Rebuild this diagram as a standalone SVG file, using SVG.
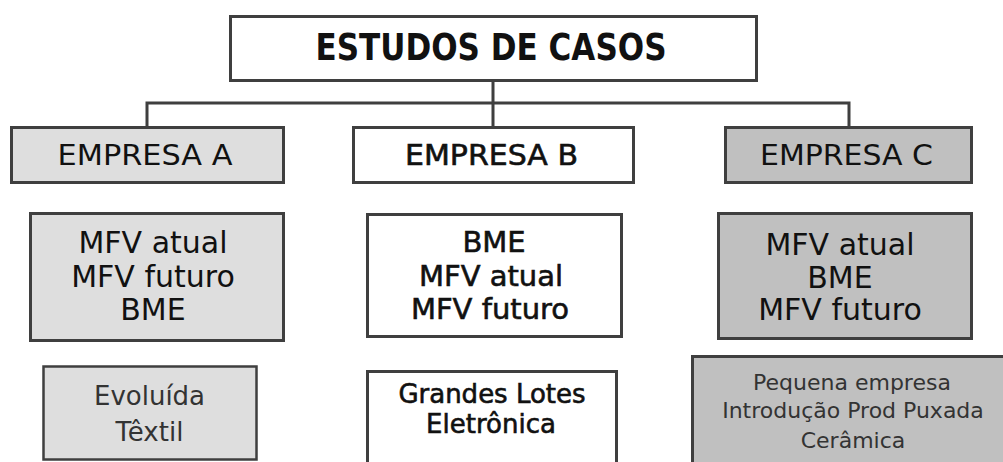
<svg xmlns="http://www.w3.org/2000/svg" width="1003" height="462" viewBox="0 0 1003 462">
<style>
.box{stroke:#3f3f3f;stroke-width:3}
.w{fill:#ffffff}
.la{fill:#dedede}
.dc{fill:#c0c0c0}
.t{font-family:"DejaVu Sans",Verdana,sans-serif;text-anchor:middle;fill:#111}
.b{stroke:#111;stroke-width:0.6}
.g{fill:#333}
.con{fill:none;stroke:#3f3f3f;stroke-width:3}
</style>
<rect width="1003" height="462" fill="#ffffff"/>
<g id="connectors">
<path class="con" d="M493 82V103M147 127V103H849V127M493 103V127"/>
</g>
<g id="title">
<rect class="box w" x="230.5" y="16.5" width="526" height="64"/>
<text class="t" x="491" y="60" font-size="37" font-weight="bold" textLength="351" lengthAdjust="spacingAndGlyphs">ESTUDOS DE CASOS</text>
</g>
<g id="empresaA">
<rect class="box la" x="11.5" y="127.5" width="272" height="55"/>
<text class="t" x="145" y="165" font-size="28" textLength="175" lengthAdjust="spacingAndGlyphs">EMPRESA A</text>
</g>
<g id="empresaB">
<rect class="box w" x="353.5" y="127.5" width="280" height="55"/>
<text class="t b" x="491.5" y="165" font-size="28" textLength="173" lengthAdjust="spacingAndGlyphs">EMPRESA B</text>
</g>
<g id="empresaC">
<rect class="box dc" x="725.5" y="127.5" width="246" height="55"/>
<text class="t" x="846.5" y="165" font-size="28" textLength="173" lengthAdjust="spacingAndGlyphs">EMPRESA C</text>
</g>
<g id="metodosA">
<rect class="box la" x="30.5" y="213.5" width="253" height="127"/>
<text class="t" font-size="30"><tspan x="153" y="253">MFV atual</tspan><tspan x="153" y="287">MFV futuro</tspan><tspan x="153" y="320">BME</tspan></text>
</g>
<g id="metodosB">
<rect class="box w" x="367.5" y="214.5" width="254" height="122"/>
<text class="t b" font-size="29"><tspan x="494" y="252">BME</tspan><tspan x="491" y="286">MFV atual</tspan><tspan x="490" y="319">MFV futuro</tspan></text>
</g>
<g id="metodosC">
<rect class="box dc" x="718.5" y="213.5" width="253" height="125"/>
<text class="t" font-size="30"><tspan x="840" y="255">MFV atual</tspan><tspan x="840" y="288">BME</tspan><tspan x="840" y="320">MFV futuro</tspan></text>
</g>
<g id="perfilA">
<rect class="box la" x="43.5" y="366.5" width="213" height="93" style="stroke-width:2.5"/>
<text class="t g" font-size="26"><tspan x="149.5" y="405">Evoluída</tspan><tspan x="149.5" y="441">Têxtil</tspan></text>
</g>
<g id="perfilB">
<rect class="box w" x="367.5" y="371.5" width="249" height="100"/>
<text class="t b" font-size="26"><tspan x="492" y="403">Grandes Lotes</tspan><tspan x="491" y="433">Eletrônica</tspan></text>
</g>
<g id="perfilC">
<rect class="box dc" x="692.5" y="356.5" width="320" height="120"/>
<text class="t g" font-size="22"><tspan x="852" y="390">Pequena empresa</tspan><tspan x="853" y="418">Introdução Prod Puxada</tspan><tspan x="853" y="448">Cerâmica</tspan></text>
</g>
</svg>
